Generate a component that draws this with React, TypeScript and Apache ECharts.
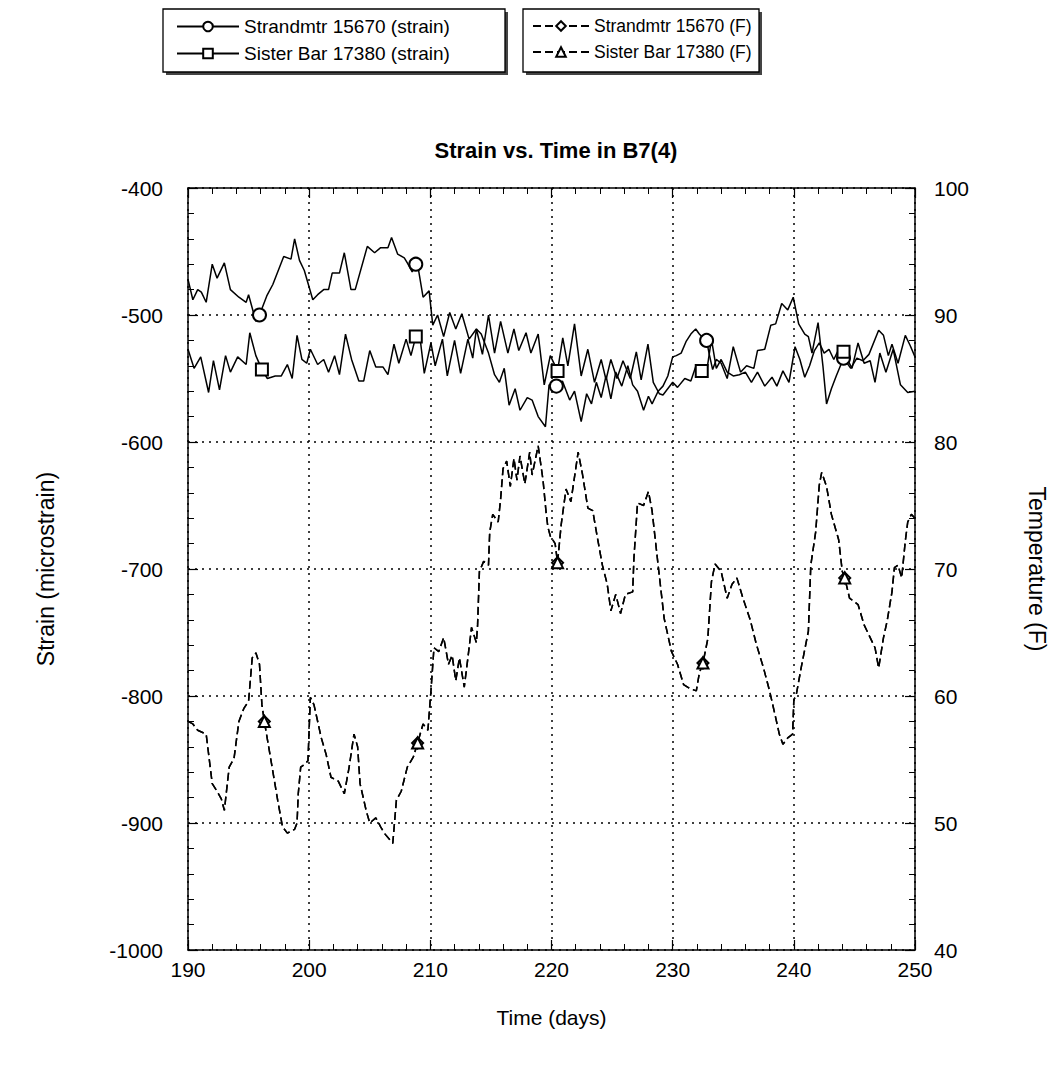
import React, { useEffect, useRef } from "react";
import * as echarts from "echarts";

// Strandmeter 15670 strain (microstrain) against time (days)
const strandDays = [
  190.0, 190.4, 190.8, 191.1, 191.5, 192.0, 192.4, 193.0, 193.5, 194.2, 194.8, 195.0, 195.6, 195.9,
  196.5, 197.0, 197.9, 198.5, 198.8, 199.2, 199.6, 200.3, 200.7, 201.2, 201.6, 201.9, 202.5, 202.9,
  203.45, 203.8, 204.8, 205.4, 205.9, 206.5, 206.8, 207.3, 207.85, 208.1, 208.5, 208.8, 209.0, 209.4,
  209.9, 210.2, 210.6, 211.1, 211.6, 212.1, 212.6, 213.2, 213.8, 214.2, 214.8, 215.3, 215.7, 216.1,
  216.5, 217.0, 217.4, 218.0, 218.4, 218.9, 219.5, 219.8, 220.4, 220.9, 221.5, 221.9, 222.45, 222.9,
  223.3, 223.7, 224.1, 224.5, 224.9, 225.3, 225.8, 226.3, 226.7, 227.1, 227.6, 228.0, 228.3, 228.8,
  229.2, 229.6, 230.0, 230.3, 230.7, 231.1, 231.5, 231.9, 232.2, 232.5, 232.8, 233.0, 233.3, 233.6,
  234.0, 234.5, 235.0, 235.6, 236.1, 236.7, 237.0, 237.6, 238.1, 238.5, 239.0, 239.5, 239.95, 240.4,
  240.9, 241.2, 241.5, 242.0, 242.4, 242.7, 243.1, 243.5, 244.1, 244.7, 245.2, 245.7, 246.2, 247.0,
  247.4, 247.8, 248.1, 248.6, 249.2, 249.6, 250.0,
];
const strandStrain = [
  -472, -488, -480, -482, -490, -460, -471, -459, -480, -486, -490, -484, -505, -500,
  -485, -476, -454, -456, -440, -457, -465, -488, -484, -480, -480, -467, -467, -451,
  -480, -480, -446, -451, -447, -447, -439, -452, -455, -459, -466, -460, -463, -486,
  -481, -508, -500, -517, -498, -511, -499, -519, -511, -515, -530, -547, -553, -542,
  -571, -558, -575, -565, -567, -580, -588, -555, -556, -552, -567, -560, -584, -562,
  -570, -553, -565, -548, -566, -545, -556, -540, -555, -560, -575, -564, -570, -560,
  -556, -548, -533, -532, -530, -521, -515, -511, -515, -518, -520, -530, -543, -535,
  -538, -550, -525, -545, -540, -542, -528, -527, -508, -507, -491, -496, -486, -507,
  -515, -517, -530, -506, -540, -570, -558, -548, -534, -542, -534, -536, -531, -512,
  -516, -532, -523, -538, -516, -524, -533,
];
const strandMarkerDays = [195.9, 208.8, 220.4, 232.8, 244.1];

// Sister bar 17380 strain (microstrain) against time (days)
const sisterDays = [
  190.0, 190.5, 191.05, 191.7, 192.1, 192.6, 193.1, 193.5, 194.1, 194.8, 195.1, 195.6, 196.1, 196.55,
  197.2, 197.7, 198.2, 198.6, 199.0, 199.4, 199.8, 200.1, 200.7, 201.2, 201.6, 202.1, 202.5, 203.0,
  203.5, 204.1, 204.5, 205.0, 205.5, 206.1, 206.5, 207.0, 207.4, 208.0, 208.4, 208.8, 209.1, 209.5,
  210.05, 210.4, 211.0, 211.4, 212.0, 212.5, 213.1, 213.5, 213.8, 214.3, 214.8, 215.3, 215.8, 216.4,
  216.9, 217.3, 217.9, 218.3, 218.9, 219.4, 219.9, 220.5, 220.93, 221.35, 221.9, 222.45, 223.0, 223.55,
  224.1, 224.5, 224.9, 225.4, 225.9, 226.5, 227.0, 227.4, 227.96, 228.4, 228.9, 229.2, 230.0, 230.4,
  231.0, 231.5, 231.96, 232.4, 232.8, 233.2, 233.6, 234.0, 234.5, 235.0, 235.5, 236.0, 236.5, 237.0,
  237.6, 238.2, 238.6, 239.1, 239.6, 240.1, 240.5, 240.9, 241.3, 241.7, 242.1, 242.5, 242.9, 243.3,
  243.7, 244.1, 244.8, 245.3, 245.8, 246.3, 246.7, 247.1, 247.6, 248.2, 248.8, 249.4, 250.0,
];
const sisterStrain = [
  -527, -542, -533, -561, -536, -559, -532, -545, -533, -539, -514, -532, -543, -550,
  -548, -548, -539, -550, -516, -535, -538, -527, -539, -535, -545, -532, -547, -515,
  -535, -552, -552, -528, -541, -541, -547, -523, -538, -519, -532, -517, -514, -546,
  -522, -540, -519, -548, -520, -546, -519, -534, -511, -531, -500, -530, -505, -530,
  -511, -528, -514, -530, -515, -555, -532, -544, -518, -540, -507, -548, -527, -553,
  -535, -551, -535, -550, -536, -550, -529, -551, -523, -553, -562, -563, -553, -557,
  -550, -552, -539, -544, -545, -519, -542, -535, -545, -548, -547, -545, -553, -545,
  -556, -549, -556, -544, -553, -525, -535, -549, -540, -528, -522, -530, -527, -535,
  -527, -529, -542, -522, -538, -536, -553, -530, -545, -527, -555, -561, -560,
];
const sisterMarkerDays = [196.1, 208.8, 220.5, 232.4, 244.1];

// Gauge temperature (F) against time (days); both gauges read the same trace
const tempDays = [
  190.0, 190.4, 190.8, 191.5, 192.0, 192.4, 192.75, 193.0, 193.4, 193.8, 194.2, 194.6, 195.0, 195.3,
  195.6, 195.9, 196.1, 196.3, 196.8, 197.4, 197.8, 198.2, 198.8, 199.0, 199.1, 199.3, 199.6, 199.9,
  200.1, 200.4, 201.0, 201.4, 201.8, 202.4, 202.9, 203.3, 203.7, 204.0, 204.2, 204.7, 205.0, 205.5,
  205.9, 206.2, 206.9, 207.2, 207.6, 208.1, 208.6, 208.95, 209.4, 209.8, 210.05, 210.3, 210.7, 211.1,
  211.5, 211.8, 212.1, 212.4, 212.8, 213.1, 213.4, 213.8, 213.9, 214.05, 214.4, 214.8, 214.9, 215.15,
  215.6, 215.8, 216.0, 216.3, 216.6, 216.9, 217.15, 217.4, 217.8, 218.2, 218.4, 218.9, 219.3, 219.55,
  219.7, 219.9, 220.3, 220.5, 220.8, 221.2, 221.6, 222.2, 222.55, 223.0, 223.4, 223.8, 224.2, 224.6,
  224.9, 225.3, 225.7, 226.1, 226.7, 226.8, 227.1, 227.6, 228.0, 228.3, 228.8, 229.3, 229.9, 230.4,
  230.9, 231.4, 231.95, 232.2, 232.5, 232.9, 233.2, 233.5, 234.0, 234.5, 234.9, 235.3, 235.8, 236.4,
  236.9, 237.5, 238.0, 238.5, 238.8, 239.1, 239.5, 239.9, 240.0, 240.2, 240.6, 241.2, 241.4, 241.8,
  242.1, 242.3, 242.7, 243.1, 243.7, 244.0, 244.2, 244.6, 245.3, 245.8, 246.7, 247.0, 247.4, 247.7,
  248.1, 248.3, 248.6, 248.9, 249.2, 249.4, 249.7, 250.0,
];
const tempF = [
  58.0, 57.8, 57.3, 57.0, 53.1, 52.5, 51.9, 51.0, 54.4, 55.1, 58.0, 59.0, 59.6, 63.0,
  63.4, 62.5, 59.3, 58.0, 55.2, 51.8, 49.7, 49.2, 49.5, 50.0, 52.3, 54.4, 54.6, 54.9,
  59.9, 59.3, 56.7, 55.4, 53.6, 53.3, 52.3, 54.4, 57.0, 56.0, 53.1, 51.0, 50.0, 50.4,
  49.7, 49.2, 48.4, 51.8, 52.5, 54.4, 55.2, 56.3, 57.8, 57.3, 60.4, 63.8, 63.5, 64.6,
  62.5, 63.2, 61.2, 63.0, 60.7, 63.0, 65.4, 64.2, 65.6, 69.8, 70.6, 70.3, 72.9, 74.3,
  73.7, 75.5, 77.9, 78.5, 76.5, 78.7, 77.0, 78.9, 76.7, 79.2, 77.4, 79.7, 77.0, 74.5,
  73.3, 72.6, 72.0, 70.5, 73.5, 76.3, 75.3, 79.2, 77.5, 74.8, 74.6, 72.4, 70.3, 68.8,
  66.7, 68.0, 66.5, 68.0, 68.2, 70.8, 75.2, 75.0, 76.1, 74.6, 70.3, 66.1, 63.5, 62.5,
  60.9, 60.6, 60.4, 61.8, 62.6, 64.5, 69.0, 70.4, 69.8, 67.7, 68.8, 69.3, 67.7, 66.0,
  64.1, 62.2, 60.4, 58.3, 57.0, 56.2, 56.7, 57.0, 59.7, 60.1, 62.2, 65.1, 70.3, 72.9,
  76.6, 77.6, 76.5, 74.3, 72.3, 69.8, 69.3, 67.7, 67.2, 65.6, 63.8, 62.2, 64.6, 65.9,
  68.2, 70.1, 70.3, 69.3, 72.2, 73.7, 74.3, 74.0,
];
const strandTempMarkerDays = [196.3, 208.95, 220.5, 232.5, 244.2];
const sisterTempMarkerDays = [196.3, 208.95, 220.5, 232.5, 244.2];

const seriesNames = [
  "Strandmtr 15670 (strain)",
  "Sister Bar 17380 (strain)",
  "Strandmtr 15670 (F)",
  "Sister Bar 17380 (F)",
];

const FONT = "Liberation Sans, Arial, sans-serif";

function toData(days: number[], vals: number[], markerDays: number[]) {
  return days.map((d, i) => {
    const item: any = { value: [d, vals[i]] };
    if (!markerDays.includes(d)) item.symbol = "none";
    return item;
  });
}

const lineSeries = (
  name: string,
  data: any[],
  symbol: string,
  symbolSize: number,
  yAxisIndex: number,
  dashed: boolean
) => ({
  name,
  type: "line",
  xAxisIndex: 0,
  yAxisIndex,
  data,
  symbol,
  symbolSize,
  showSymbol: true,
  showAllSymbol: true,
  itemStyle: { color: "#000", borderColor: "#000", borderWidth: 1.2 },
  lineStyle: { color: "#000", width: 1.5, type: dashed ? [8, 4] : "solid" },
  emphasis: { disabled: true },
  z: 3,
});

const tickAxisCommon = {
  axisLine: { show: true, onZero: false, lineStyle: { color: "#000", width: 1.5 } },
  axisTick: { show: true, inside: true, length: 10, lineStyle: { color: "#000", width: 1.2 } },
  minorTick: { show: true, splitNumber: 5, length: 6, lineStyle: { color: "#000", width: 1 } },
};

const dottedGrid = { show: true, lineStyle: { color: "#000", type: [2, 5], width: 1.5 } };
const tickLabel = {
  color: "#000",
  fontSize: 21,
  fontFamily: FONT,
  formatter: (v: number) => String(v),
};
const nameStyle = { color: "#000", fontSize: 21, fontFamily: FONT };

export default function App() {
  const ref = useRef<HTMLDivElement>(null);

  useEffect(() => {
    document.body.style.margin = "0";
    const chart = echarts.init(ref.current!, undefined, { renderer: "svg" });

    const boxes = [
      { x: 163, y: 9, w: 342, h: 63 },
      { x: 523, y: 9, w: 236, h: 63 },
    ];

    chart.setOption({
      animation: false,
      backgroundColor: "#fff",
      title: {
        text: "Strain vs. Time in B7(4)",
        left: 551,
        top: 134,
        textAlign: "center",
        textStyle: { color: "#000", fontSize: 22, fontWeight: "bold", fontFamily: FONT },
      },
      graphic: boxes.flatMap((b) => [
        {
          type: "rect",
          shape: { x: b.x + 3, y: b.y + 3, width: b.w, height: b.h },
          style: { fill: "#444" },
          z: 1,
        },
        {
          type: "rect",
          shape: { x: b.x, y: b.y, width: b.w, height: b.h },
          style: { fill: "#fff", stroke: "#000", lineWidth: 1.3 },
          z: 2,
        },
      ]),
      legend: [
        {
          data: [seriesNames[0], seriesNames[1]],
          orient: "vertical",
          left: 176,
          top: 17,
          itemWidth: 62,
          itemHeight: 12,
          itemGap: 8,
          padding: 0,
          textStyle: { color: "#000", fontSize: 19, fontFamily: FONT },
          z: 10,
        },
        {
          data: [seriesNames[2], seriesNames[3]],
          orient: "vertical",
          left: 532,
          top: 17,
          itemWidth: 56,
          itemHeight: 12,
          itemGap: 8,
          padding: 0,
          textStyle: { color: "#000", fontSize: 17.5, fontFamily: FONT },
          z: 10,
        },
      ],
      grid: { left: 188, right: 147, top: 188, bottom: 139, containLabel: false },
      xAxis: [
        {
          type: "value",
          position: "bottom",
          min: 190,
          max: 250,
          interval: 10,
          ...tickAxisCommon,
          splitLine: dottedGrid,
          axisLabel: { ...tickLabel, margin: 9 },
          name: "Time (days)",
          nameLocation: "middle",
          nameGap: 57,
          nameTextStyle: nameStyle,
        },
        {
          type: "value",
          position: "top",
          min: 190,
          max: 250,
          interval: 10,
          ...tickAxisCommon,
          splitLine: { show: false },
          axisLabel: { show: false },
        },
      ],
      yAxis: [
        {
          type: "value",
          position: "left",
          min: -1000,
          max: -400,
          interval: 100,
          ...tickAxisCommon,
          splitLine: dottedGrid,
          axisLabel: { ...tickLabel, margin: 25 },
          name: "Strain (microstrain)",
          nameLocation: "middle",
          nameRotate: 90,
          nameGap: 131,
          nameTextStyle: { ...nameStyle, fontSize: 23 },
        },
        {
          type: "value",
          position: "right",
          min: 40,
          max: 100,
          interval: 10,
          ...tickAxisCommon,
          splitLine: { show: false },
          axisLabel: { ...tickLabel, margin: 19 },
          name: "Temperature (F)",
          nameLocation: "middle",
          nameRotate: -90,
          nameGap: 110,
          nameTextStyle: { ...nameStyle, fontSize: 23 },
        },
      ],
      series: [
        lineSeries(seriesNames[0], toData(strandDays, strandStrain, strandMarkerDays), "emptyCircle", 13, 0, false),
        lineSeries(seriesNames[1], toData(sisterDays, sisterStrain, sisterMarkerDays), "emptyRect", 12, 0, false),
        lineSeries(seriesNames[2], toData(tempDays, tempF, strandTempMarkerDays), "emptyDiamond", 11, 1, true),
        lineSeries(seriesNames[3], toData(tempDays, tempF, sisterTempMarkerDays), "emptyTriangle", 11, 1, true),
      ],
    });

    return () => chart.dispose();
  }, []);

  return <div ref={ref} style={{ width: 1062, height: 1089 }} />;
}
